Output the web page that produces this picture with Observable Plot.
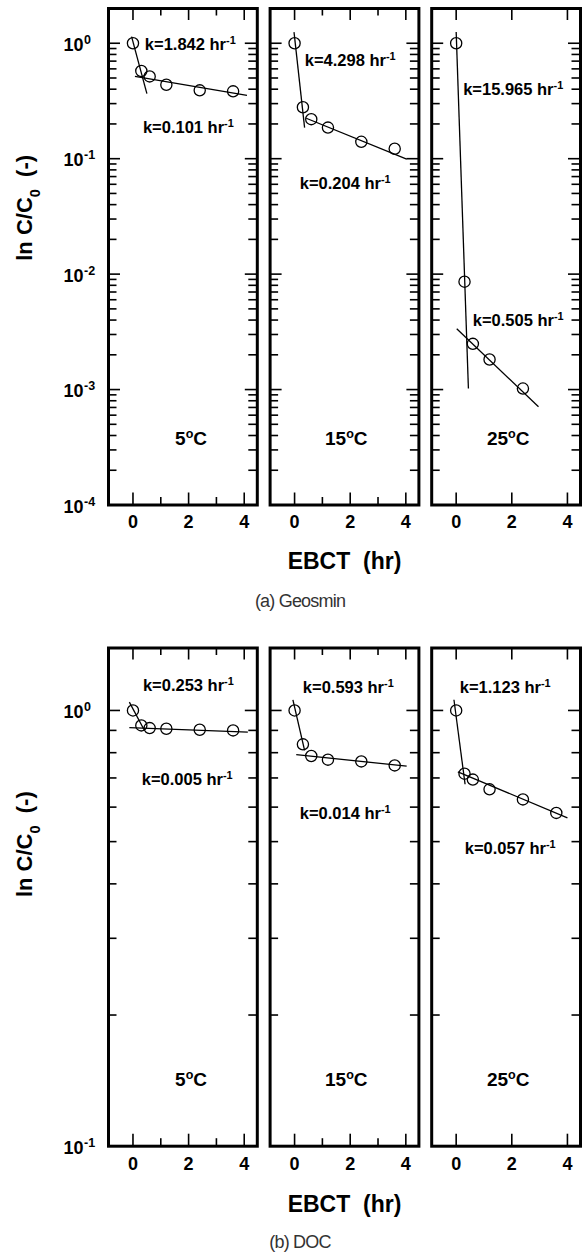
<!DOCTYPE html>
<html><head><meta charset="utf-8">
<script src="https://cdn.jsdelivr.net/npm/d3@7"></script>
<script src="https://cdn.jsdelivr.net/npm/@observablehq/plot@0.6"></script>
<style>
body{margin:0;background:#fff;width:584px;}
.cap{font-family:"Liberation Sans",Arial,sans-serif;font-size:18px;letter-spacing:-0.8px;color:#333;text-align:center;padding-left:16px;box-sizing:border-box;width:584px;}
</style></head><body>
<div id="a"></div><div class="cap" style="height:22px;line-height:22px">(a) Geosmin</div>
<div id="b"></div><div class="cap" style="height:25px;line-height:25px">(b) DOC</div>
<script>
// ---------- data ----------
const ebct = [0, 0.3, 0.6, 1.2, 2.4, 3.6];
const temps = ["5", "15", "25"];
const tempLabels = ["5^{o}C", "15^{o}C", "25^{o}C"];

// Geosmin C/C0
const geosmin5 = [1.0, 0.575, 0.516, 0.437, 0.391, 0.383];
const geosmin15 = [1.0, 0.279, 0.220, 0.186, 0.140, 0.122];
const geosmin25 = [1.0, 0.0086, 0.00249, 0.00182, 0.00102];
// Geosmin fitted segments [x1, y1, x2, y2]
const geosminFast = [[-0.05, 1.14, 0.5, 0.366], [-0.02, 1.25, 0.36, 0.186], [0, 1.25, 0.44, 0.00102]];
const geosminSlow = [[0.07, 0.516, 4.1, 0.354], [0.42, 0.224, 4.03, 0.0993], [0.02, 0.00336, 2.96, 0.00071]];
const geosminKfast = [1.842, 4.298, 15.965];
const geosminKslow = [0.101, 0.204, 0.505];
const geosminKfastAt = [[2.06, 0.98], [2.0, 0.70], [2.05, 0.394]];
const geosminKslowAt = [[1.99, 0.185], [1.82, 0.0612], [2.23, 0.00396]];

// DOC C/C0
const doc5 = [1.0, 0.924, 0.911, 0.908, 0.903, 0.900];
const doc15 = [1.0, 0.836, 0.786, 0.771, 0.764, 0.748];
const doc25 = [1.0, 0.716, 0.694, 0.659, 0.625, 0.582];
const docFast = [[-0.13, 1.045, 0.4, 0.903], [-0.06, 1.058, 0.36, 0.810], [-0.08, 1.058, 0.32, 0.677]];
const docSlow = [[-0.13, 0.913, 4.13, 0.892], [0.06, 0.792, 4.03, 0.745], [0.06, 0.723, 4.0, 0.567]];
const docKfast = [0.253, 0.593, 1.123];
const docKslow = [0.005, 0.014, 0.057];
const docKfastAt = [[1.99, 1.14], [1.93, 1.125], [1.76, 1.129]];
const docKslowAt = [[1.95, 0.695], [1.82, 0.578], [1.94, 0.481]];

// ticks
const xTickValues = [0, 2, 4];
const xTickLabels = ["0", "2", "4"];
const xMinorValues = [1, 3];
const yTicksGeosmin = [1, 0.1, 0.01, 0.001, 0.0001];
const yExpGeosmin = ["0", "-1", "-2", "-3", "-4"];
const yTicksDoc = [1, 0.1];
const yExpDoc = ["0", "-1"];
const tempLabelX = [2.09, 1.86, 1.87];

// ---------- helpers ----------
function rich(root) {
  const ns = "http://www.w3.org/2000/svg";
  root.querySelectorAll("text").forEach(t => {
    const s = t.textContent;
    if (!/[\^_]\{/.test(s)) return;
    t.textContent = "";
    const re = /([\^_])\{([^}]*)\}/g;
    let last = 0, m;
    const add = (str, shift) => {
      if (!str) return;
      const ts = document.createElementNS(ns, "tspan");
      ts.textContent = str;
      if (shift) { ts.setAttribute("baseline-shift", shift); ts.setAttribute("font-size", "0.66em"); }
      t.appendChild(ts);
    };
    while ((m = re.exec(s))) { add(s.slice(last, m.index)); add(m[2], m[1] === "^" ? "super" : "sub"); last = re.lastIndex; }
    add(s.slice(last));
  });
}

function makeChart(o) {
  const pI = 0.0792, mL = 108, mR = 4, width = 584;
  const step = (width - mL - mR) / (3 - pI);
  const W = step * (1 - pI);
  const H = o.height - o.marginTop - o.marginBottom;
  const points = temps.flatMap((t, i) => o.series[i].map((v, j) => ({fx: t, x: ebct[j], y: v})));
  const fits = temps.flatMap((t, i) => [o.fast[i], o.slow[i]].map(s => ({fx: t, x1: s[0], y1: s[1], x2: s[2], y2: s[3]})));
  const kLabels = temps.flatMap((t, i) => [
    {fx: t, x: o.kFastAt[i][0], y: o.kFastAt[i][1], text: `k=${o.kFast[i].toFixed(3)} hr^{-1}`},
    {fx: t, x: o.kSlowAt[i][0], y: o.kSlowAt[i][1], text: `k=${o.kSlow[i].toFixed(3)} hr^{-1}`}
  ]);
  const yMajor = o.yTicks;
  const yMinor = o.yMinor;
  const xMinor = ["5", "15"].flatMap(t => xMinorValues.map(v => ({fx: t, v})));
  const yLab = o.yTicks.map((v, i) => ({fx: "5", v, e: o.yExp[i]}));
  const font = {fontFamily: "'Liberation Sans', Arial, sans-serif", fontWeight: "bold", fill: "black"};
  const tk = {stroke: "black", strokeWidth: 1.6};
  const svg = Plot.plot({
    width, height: o.height,
    marginLeft: mL, marginRight: mR, marginTop: o.marginTop, marginBottom: o.marginBottom,
    fx: {domain: temps, paddingInner: pI, paddingOuter: 0, axis: null, round: false},
    x: {domain: [-0.88, 4.47], axis: null},
    y: {type: "log", domain: o.yDomain, axis: null},
    style: {fontFamily: "'Liberation Sans', Arial, sans-serif", background: "white", color: "black"},
    marks: [
      Plot.tickY(yMajor, {y: d => d, insetRight: W - 12, ...tk}),
      Plot.tickY(yMajor, {y: d => d, insetLeft: W - 12, ...tk}),
      Plot.tickY(yMinor, {y: d => d, insetRight: W - 8.5, ...tk}),
      Plot.tickY(yMinor, {y: d => d, insetLeft: W - 8.5, ...tk}),
      Plot.tickX(xTickValues, {x: d => d, insetTop: H - 12, ...tk}),
      Plot.tickX(xTickValues, {x: d => d, insetBottom: H - 12, ...tk}),
      Plot.tickX(xMinor, {fx: "fx", x: "v", insetTop: H - 7.5, ...tk}),
      Plot.tickX(xMinor, {fx: "fx", x: "v", insetBottom: H - 7.5, ...tk}),
      Plot.frame({stroke: "black", strokeWidth: 3}),
      Plot.link(fits, {fx: "fx", x1: "x1", y1: "y1", x2: "x2", y2: "y2", stroke: "black", strokeWidth: 1.3}),
      Plot.dot(points, {fx: "fx", x: "x", y: "y", r: 5.6, stroke: "black", strokeWidth: 1.3, fill: "none"}),
      Plot.text(kLabels, {fx: "fx", x: "x", y: "y", text: "text", fontSize: 16.5, ...font}),
      Plot.text(temps.map((t, i) => ({fx: t, x: tempLabelX[i], text: tempLabels[i]})),
        {fx: "fx", x: "x", text: "text", frameAnchor: "bottom", dy: -60, fontSize: 19, ...font}),
      Plot.text(xTickValues.map((v, i) => ({v, t: xTickLabels[i]})),
        {x: "v", text: "t", frameAnchor: "bottom", dy: o.xLabDy, fontSize: 18, ...font}),
      Plot.text(yLab, {fx: "fx", y: "v", text: () => "10", frameAnchor: "left", textAnchor: "end", dx: -25, dy: 2, fontSize: 18, ...font}),
      Plot.text(yLab, {fx: "fx", y: "v", text: "e", frameAnchor: "left", textAnchor: "start", dx: -24.5, dy: -3.5, fontSize: 12.5, ...font}),
      Plot.text([{fx: "5"}], {fx: "fx", text: () => "ln C/C_{0}\u00a0\u00a0(-)", frameAnchor: "left", rotate: -90, dx: -84, dy: o.yLabDy, fontSize: 22, ...font}),
      Plot.text([{fx: "15"}], {fx: "fx", text: () => "EBCT\u00a0\u00a0(hr)", frameAnchor: "bottom", dy: o.ebctDy, fontSize: 23, ...font})
    ]
  });
  rich(svg);
  return svg;
}

const minorGeosmin = [];
for (const d of [1e-4, 1e-3, 1e-2, 1e-1]) for (let m = 2; m <= 9; m++) minorGeosmin.push(+(d * m).toPrecision(3));
const minorDoc = [];
for (let m = 2; m <= 9; m++) minorDoc.push(+(0.1 * m).toPrecision(3));

document.getElementById("a").appendChild(makeChart({
  height: 590, marginTop: 8, marginBottom: 85.5,
  yDomain: [1e-4, 2.0],
  series: [geosmin5, geosmin15, geosmin25],
  fast: geosminFast, slow: geosminSlow,
  kFast: geosminKfast, kSlow: geosminKslow, kFastAt: geosminKfastAt, kSlowAt: geosminKslowAt,
  yTicks: yTicksGeosmin, yExp: yExpGeosmin, yMinor: minorGeosmin,
  xLabDy: 23, ebctDy: 64, yLabDy: 4
}));
document.getElementById("b").appendChild(makeChart({
  height: 618, marginTop: 35.5, marginBottom: 84.3,
  yDomain: [0.1, 1.391],
  series: [doc5, doc15, doc25],
  fast: docFast, slow: docSlow,
  kFast: docKfast, kSlow: docKslow, kFastAt: docKfastAt, kSlowAt: docKslowAt,
  yTicks: yTicksDoc, yExp: yExpDoc, yMinor: minorDoc,
  xLabDy: 24, ebctDy: 66, yLabDy: 0
}));
</script>
</body></html>
